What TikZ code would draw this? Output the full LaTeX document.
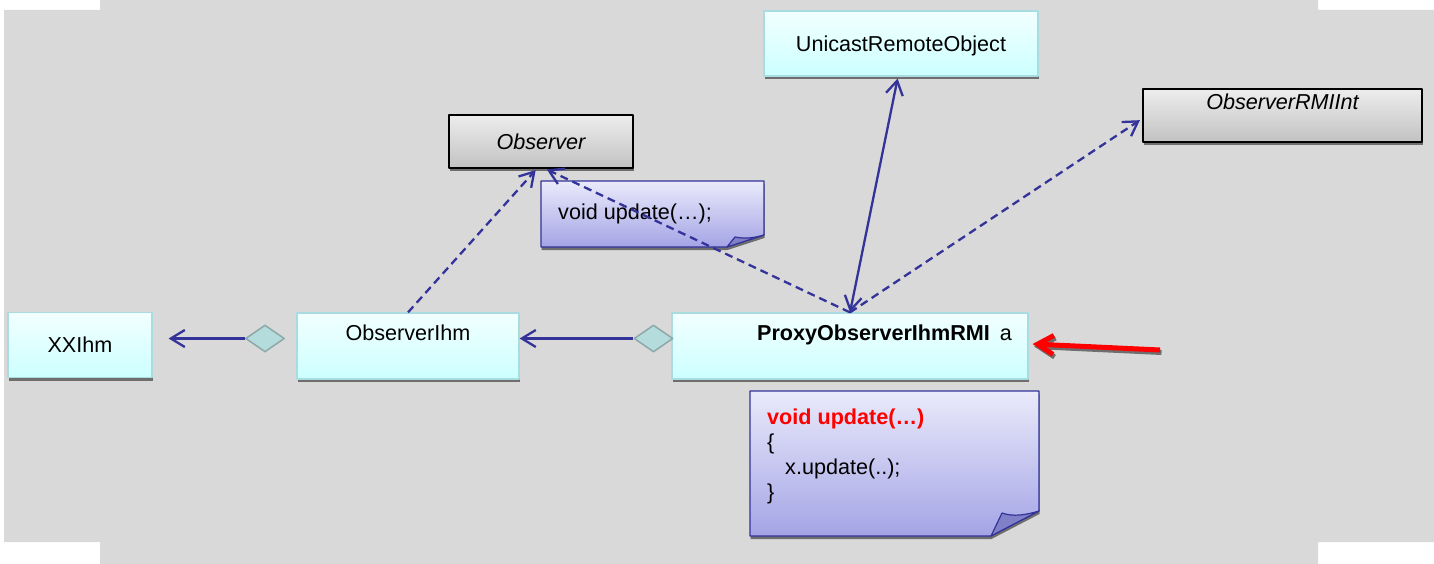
\documentclass[tikz,border=0pt]{standalone}
\usepackage{fontspec}
\setmainfont{Liberation Sans}
\usetikzlibrary{arrows.meta,shapes.geometric,shadows}
\definecolor{backgray}{HTML}{D9D9D9}
\definecolor{umlnavy}{HTML}{333399}
\definecolor{classtop}{HTML}{F2FFFF}
\definecolor{classbottom}{HTML}{CCFFFF}
\definecolor{classedge}{HTML}{A8DCE0}
\definecolor{abstracttop}{HTML}{EDEDED}
\definecolor{abstractbottom}{HTML}{C2C2C2}
\definecolor{notetop}{HTML}{EAEAFB}
\definecolor{notebottom}{HTML}{A4A4E6}
\definecolor{noteflap}{HTML}{8080C8}
\definecolor{aggfill}{HTML}{B5DCDC}
\definecolor{aggedge}{HTML}{8DA8A8}
\definecolor{shadowgray}{HTML}{6E6E6E}

\begin{document}
\begin{tikzpicture}[
  x=1pt,
  y=-1pt,
  line join=round,
  font=\fontsize{21.6}{25}\selectfont,
  boxshadow/.style={drop shadow={shadow xshift=0.5pt,shadow yshift=-3pt,fill=shadowgray,opacity=1}},
  classbox/.style={rectangle,inner sep=0pt,line width=1.2pt,draw=classedge,
    top color=classtop,bottom color=classbottom,boxshadow},
  abstractbox/.style={rectangle,inner sep=0pt,line width=1.2pt,draw=black,
    top color=abstracttop,bottom color=abstractbottom,boxshadow,font=\fontsize{21.6}{25}\selectfont\itshape},
  notebody/.style={draw=umlnavy,line width=1.2pt,top color=notetop,bottom color=notebottom,boxshadow},
  noteflapstyle/.style={draw=umlnavy,line width=1.2pt,fill=noteflap},
  agg/.style={diamond,inner sep=0pt,minimum width=39pt,minimum height=27pt,
    fill=aggfill,draw=aggedge,line width=1.5pt},
  assoc/.style={draw=umlnavy,line width=2.3pt,-{Straight Barb[length=14pt,width=17pt]}},
  realize/.style={assoc,dash pattern=on 8pt off 5pt},
  redpointer/.style={draw=red,line width=5pt,-{Straight Barb[length=16pt,width=19pt]}}
]
  \useasboundingbox (0,0) rectangle (1434,564);

  % Slide background
  \fill[backgray] (100,0) -- (1318,0) -- (1318,10) -- (1434,10) -- (1434,542)
    -- (1318,542) -- (1318,564) -- (100,564) -- (100,542) -- (4,542) -- (4,10)
    -- (100,10) -- cycle;

  % Classes
  \node[classbox,minimum width=144pt,minimum height=65pt,text height=40pt,text depth=25pt]
    (xxihm) at (80,345) {XXIhm};
  \node[classbox,minimum width=222pt,minimum height=66pt,text height=27pt,text depth=39pt]
    (obsihm) at (408,346) {ObserverIhm};
  \node[classbox,minimum width=356pt,minimum height=66pt,text height=27pt,text depth=39pt,
    text width=324pt,align=right]
    (proxy) at (850,346) {\textbf{ProxyObserverIhmRMI}\hspace{10pt}a};
  \node[classbox,minimum width=274pt,minimum height=65pt,text height=41pt,text depth=24pt]
    (unicast) at (901,43.5) {UnicastRemoteObject};

  % Interfaces
  \node[abstractbox,minimum width=184pt,minimum height=53pt,text height=35pt,text depth=18pt]
    (observer) at (541,141.5) {Observer};
  \node[abstractbox,minimum width=279pt,minimum height=53pt,text height=21pt,text depth=32pt]
    (rmiint) at (1282.5,115.5) {ObserverRMIInt};

  % Notes with folded corner
  \path[notebody] (541,181) -- (764,181) -- (764,235) -- (727,247) -- (541,247) -- cycle;
  \path[noteflapstyle] (727,247) -- (735,237) .. controls (745,239) and (754,238) .. (764,235) -- cycle;
  \node[anchor=base west,inner sep=0pt] (decl) at (558,219) {void update(…);};

  \path[notebody] (750,391) -- (1039,391) -- (1039,511) -- (991,536) -- (750,536) -- cycle;
  \path[noteflapstyle] (991,536) -- (1002,513) .. controls (1013,517) and (1026,515) .. (1039,511) -- cycle;
  \node[anchor=base west,inner sep=0pt,text=red,font=\fontsize{21.6}{25}\selectfont\bfseries]
    (code1) at (767,424) {void update(…)};
  \node[anchor=base west,inner sep=0pt] (code2) at (767,449) {\{};
  \node[anchor=base west,inner sep=0pt] (code3) at (785,474) {x.update(..);};
  \node[anchor=base west,inner sep=0pt] (code4) at (767,499) {\}};

  % Aggregation diamonds
  \node[agg] (agg1) at (265,338.5) {};
  \node[agg] (agg2) at (653.5,338.5) {};

  % Associations
  \draw[assoc,shorten >=16pt] (agg1.west) -- (agg1.west -| xxihm.east);
  \draw[assoc] (agg2.west) -- (agg2.west -| obsihm.east);
  \draw[assoc,{Straight Barb[length=14pt,width=17pt]}-{Straight Barb[length=14pt,width=17pt]},shorten >=2pt]
    (proxy.north) -- ([xshift=-3pt]unicast.south);

  % Realizations
  \draw[realize,shorten >=2pt] (obsihm.north) -- ([xshift=-4pt]observer.south);
  \draw[realize,shorten >=2pt] (proxy.north) -- ([xshift=4pt]observer.south);
  \draw[realize,shorten >=3pt] (proxy.north) -- ([yshift=-3pt]rmiint.west);

  % Pointer to the proxy
  \coordinate (redtail) at (1160,350);
  \draw[redpointer,draw=shadowgray,transform canvas={xshift=1.5pt,yshift=-2.5pt}]
    (redtail) -- ([xshift=4pt,yshift=2pt]proxy.east);
  \draw[redpointer] (redtail) -- ([xshift=4pt,yshift=2pt]proxy.east);
\end{tikzpicture}
\end{document}
